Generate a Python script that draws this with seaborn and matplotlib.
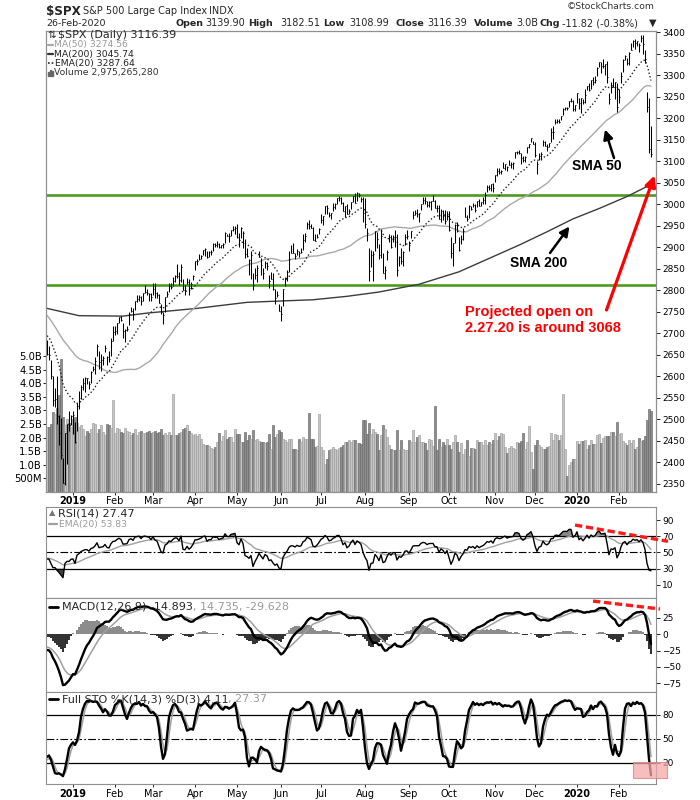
import numpy as np
import pandas as pd
import matplotlib
matplotlib.use("Agg")
import matplotlib.pyplot as plt
from matplotlib.lines import Line2D
from matplotlib.patches import Rectangle
import seaborn as sns

# ---------------------------------------------------------------- data
# warm-up sessions (Oct 1 - Dec 11 2018), not drawn; they only seed the
# moving averages / oscillators so they start where the chart shows them
warm_close_oct18 = [2924.59, 2923.43, 2925.51, 2901.61, 2885.57, 2884.43, 2880.34, 2785.68, 2728.37, 2767.13,
                    2750.79, 2809.92, 2809.21, 2768.78, 2767.78, 2755.88, 2740.69, 2656.10, 2705.57, 2658.69,
                    2641.25, 2682.63, 2711.74]
warm_ext_oct18 = [(12, 8), (8, 4), (14, 5), (17, 19), (23, 17), (10, 22), (14, 6), (92, 2), (67, 18), (8, 38),
                  (24, 2), (4, 43), (7, 27), (37, 14), (29, 8), (22, 7), (2, 50), (86, 5), (16, 39), (33, 31),
                  (65, 38), (2, 48), (24, 27)]
warm_close_nov18 = [2740.37, 2723.06, 2738.31, 2755.45, 2813.89, 2806.83, 2781.01, 2726.22, 2722.18, 2701.58,
                    2730.20, 2736.27, 2690.73, 2641.89, 2649.93, 2632.56, 2673.45, 2682.17, 2743.79, 2737.80,
                    2760.17]
warm_ext_nov18 = [(1, 32), (44, 23), (6, 24), (2, 25), (1, 39), (7, 13), (15, 16), (56, 4), (33, 8), (45, 16),
                  (5, 60), (11, 27), (51, 9), (28, 11), (20, 1), (22, 1), (2, 24), (3, 27), (0, 59), (15, 16),
                  (0, 30)]
warm_close_dec18 = [2790.37, 2700.06, 2695.95, 2633.08, 2637.72, 2636.78]
warm_ext_dec18 = [(10, 16), (85, 3), (2, 75), (75, 10), (3, 55), (37, 16)]

# visible sessions: close, (high-close, close-low), volume (billions)
close_dec18 = [2651.07, 2650.54, 2599.95, 2545.94, 2546.16, 2506.96, 2467.42, 2416.62, 2351.10, 2467.70,
               2488.83, 2485.74, 2506.85]
ext_dec18 = [(34, 1), (20, 13), (38, 7), (55, 16), (27, 18), (94, 18), (42, 26), (87, 8), (59, 0), (0, 121),
             (0, 92), (34, 13), (3, 20)]
vol_dec18 = [2.39, 2.40, 2.51, 2.94, 2.88, 3.10, 3.56, 4.89, 2.75, 2.45, 2.70, 2.55, 2.40]

close_jan19 = [2510.03, 2447.89, 2531.94, 2549.69, 2574.41, 2584.96, 2596.64, 2596.26, 2582.61, 2610.30,
               2616.10, 2635.96, 2670.71, 2632.90, 2638.70, 2642.33, 2664.76, 2643.85, 2640.00, 2681.05, 2704.10]
ext_jan19 = [(9, 43), (45, 4), (6, 58), (16, 26), (6, 27), (10, 17), (1, 34), (1, 14), (6, 13), (2, 25),
             (9, 4), (9, 30), (4, 24), (26, 16), (14, 26), (5, 15), (8, 8), (3, 17), (20, 6), (9, 33), (12, 22)]
vol_jan19 = [2.70, 2.75, 2.55, 2.40, 2.45, 2.30, 2.05, 2.25, 2.15, 2.30, 2.55, 2.50, 2.15, 2.30, 2.45, 2.20,
             2.10, 2.50, 2.45, 2.35, 3.38]

close_feb19 = [2706.53, 2724.87, 2737.70, 2731.61, 2706.05, 2707.88, 2709.80, 2744.73, 2753.03, 2745.73,
               2775.60, 2779.76, 2784.70, 2774.88, 2792.67, 2796.11, 2793.90, 2792.38, 2784.49]
ext_feb19 = [(11, 10), (0, 27), (0, 13), (8, 4), (19, 16), (1, 27), (8, 5), (4, 26), (8, 3), (12, 14),
             (0, 21), (9, 7), (5, 9), (11, 8), (0, 17), (17, 2), (10, 5), (2, 17), (10, 9)]
vol_feb19 = [2.15, 2.35, 2.30, 2.20, 2.15, 2.35, 2.25, 2.20, 2.10, 2.15, 2.30, 2.10, 2.20, 2.25, 2.15, 2.15,
             2.20, 2.25, 2.15]

close_mar19 = [2803.69, 2792.81, 2789.65, 2771.45, 2748.93, 2743.07, 2783.30, 2791.52, 2810.92, 2808.48,
               2822.48, 2832.94, 2832.57, 2824.23, 2854.88, 2800.71, 2798.36, 2818.46, 2805.37, 2815.44, 2834.40]
ext_mar19 = [(13, 14), (24, 11), (7, 7), (19, 1), (20, 4), (6, 21), (1, 33), (7, 8), (5, 14), (9, 6),
             (8, 12), (2, 14), (28, 5), (19, 12), (6, 36), (25, 0), (13, 10), (11, 3), (20, 17), (5, 13), (2, 11)]
vol_mar19 = [2.20, 2.25, 2.15, 2.20, 2.30, 2.10, 2.15, 2.10, 2.20, 2.10, 3.62, 2.10, 2.10, 2.15, 2.20, 2.30,
             2.35, 2.45, 2.25, 2.15, 2.10]

close_apr19 = [2867.19, 2867.24, 2873.40, 2879.39, 2892.74, 2895.77, 2878.20, 2888.21, 2888.32, 2907.41,
               2905.58, 2907.06, 2900.45, 2905.03, 2907.97, 2933.68, 2927.25, 2926.17, 2939.88, 2943.03, 2945.83]
ext_apr19 = [(1, 19), (5, 8), (12, 4), (3, 7), (0, 11), (2, 16), (13, 3), (3, 10), (5, 7), (3, 15),
             (5, 6), (7, 6), (9, 2), (1, 6), (2, 10), (3, 24), (3, 1), (6, 14), (0, 14), (6, 6), (4, 15)]
vol_apr19 = [2.14, 2.05, 2.14, 1.96, 1.75, 1.72, 1.72, 1.68, 1.60, 1.58, 1.65, 1.84, 2.15, 1.86, 2.05, 2.27,
             1.96, 2.02, 2.02, 1.84, 2.33]

close_may19 = [2923.73, 2917.52, 2945.64, 2932.47, 2884.05, 2879.42, 2870.72, 2881.40, 2811.87, 2834.41,
               2850.96, 2876.32, 2859.53, 2840.23, 2864.36, 2856.27, 2822.24, 2826.06, 2802.39, 2783.02,
               2788.86, 2752.06]
ext_may19 = [(31, 1), (15, 17), (2, 25), (5, 34), (36, 9), (18, 2), (3, 35), (10, 55), (28, 11), (18, 9),
             (7, 32), (15, 0), (16, 24), (12, 15), (4, 13), (10, 8), (14, 17), (16, 0), (38, 1), (20, 15),
             (10, 5), (16, 0)]
vol_may19 = [2.14, 2.12, 1.84, 1.84, 2.21, 1.90, 2.08, 1.96, 2.27, 1.90, 1.96, 1.87, 1.84, 1.84, 1.78, 1.84,
             2.14, 1.56, 2.45, 2.02, 2.14, 2.29]

close_jun19 = [2744.45, 2803.27, 2826.15, 2843.49, 2873.34, 2886.73, 2885.72, 2879.84, 2891.64, 2886.98,
               2889.67, 2917.75, 2926.46, 2954.18, 2950.46, 2945.35, 2917.38, 2913.78, 2924.92, 2941.76]
ext_jun19 = [(19, 16), (0, 40), (4, 16), (3, 21), (18, 30), (18, 0), (25, 0), (8, 6), (4, 10), (5, 10),
             (8, 3), (13, 25), (6, 14), (4, 12), (14, 7), (9, 0), (29, 0), (16, 0), (5, 4), (2, 12)]
vol_jun19 = [2.21, 1.96, 1.92, 1.84, 1.96, 1.96, 1.56, 1.59, 1.53, 1.96, 1.84, 2.02, 1.96, 1.96, 2.92, 1.96,
             1.96, 1.65, 1.70, 2.88]

close_jul19 = [2964.33, 2973.01, 2995.82, 2990.41, 2975.95, 2979.63, 2993.07, 2999.91, 3013.77, 3014.30,
               3004.04, 2984.42, 2995.11, 2976.61, 2985.03, 3005.47, 3019.56, 3003.67, 3025.86, 3020.97,
               3013.18, 2980.38]
ext_jul19 = [(13, 7), (0, 21), (0, 18), (9, 14), (5, 5), (1, 14), (9, 9), (3, 11), (0, 14), (4, 6),
             (12, 3), (21, 0), (0, 25), (23, 0), (5, 8), (0, 16), (0, 14), (23, 0), (2, 18), (5, 3),
             (4, 7), (37, 22)]
vol_jul19 = [1.65, 1.55, 1.04, 1.22, 1.53, 1.59, 1.65, 1.59, 1.53, 1.62, 1.65, 1.72, 1.84, 1.84, 1.90, 1.84,
             1.90, 1.92, 1.78, 1.78, 1.75, 2.66]

close_aug19 = [2953.56, 2932.05, 2844.74, 2881.77, 2883.98, 2938.09, 2918.65, 2882.70, 2926.32, 2840.60,
               2847.60, 2888.68, 2923.65, 2900.51, 2924.43, 2922.95, 2847.11, 2878.38, 2869.16, 2887.94,
               2924.58, 2926.46]
ext_aug19 = [(60, 8), (12, 18), (54, 22), (11, 28), (8, 62), (0, 47), (17, 20), (26, 9), (16, 51), (45, 0),
             (9, 22), (5, 18), (8, 11), (27, 2), (4, 11), (17, 23), (84, 13), (1, 22), (30, 8), (3, 32),
             (6, 20), (14, 8)]
vol_aug19 = [2.63, 2.14, 2.55, 2.14, 2.33, 2.20, 2.14, 1.55, 2.10, 2.45, 2.33, 2.02, 1.72, 1.59, 1.53, 1.53,
             2.27, 1.53, 1.90, 1.59, 1.55, 1.55]

close_sep19 = [2906.27, 2937.78, 2976.00, 2978.71, 2978.43, 2979.39, 3000.93, 3009.57, 3007.39, 2997.96,
               3005.70, 3006.73, 3006.79, 2992.07, 2991.78, 2966.60, 2984.87, 2977.62, 2961.79, 2976.74]
ext_sep19 = [(8, 15), (0, 16), (9, 10), (7, 4), (10, 9), (0, 20), (0, 15), (8, 9), (10, 6), (10, 4),
             (1, 12), (1, 21), (15, 0), (17, 0), (7, 9), (32, 0), (4, 27), (9, 14), (25, 7), (7, 13)]
vol_sep19 = [1.92, 1.84, 2.27, 1.84, 2.02, 2.08, 1.84, 1.82, 1.78, 1.53, 1.96, 1.90, 1.70, 3.15, 1.55, 1.96,
             1.65, 1.84, 1.71, 1.96]

close_oct19 = [2940.25, 2887.61, 2910.63, 2952.01, 2938.79, 2893.06, 2919.40, 2938.13, 2970.27, 2966.15,
               2995.68, 2989.69, 2997.95, 2986.20, 3006.72, 2995.99, 3004.52, 3010.29, 3022.55, 3039.42,
               3036.89, 3046.77, 3037.56]
ext_oct19 = [(43, 2), (37, 13), (0, 55), (1, 41), (20, 4), (32, 1), (10, 12), (7, 21), (23, 0), (9, 6),
             (2, 28), (7, 4), (6, 5), (14, 5), (0, 12), (17, 0), (0, 9), (6, 10), (5, 22), (5, 12),
             (8, 3), (0, 17), (13, 8)]
vol_oct19 = [1.71, 1.59, 1.84, 2.08, 1.84, 1.47, 1.78, 1.38, 1.57, 1.90, 1.31, 1.63, 1.63, 1.59, 1.92, 1.84,
             1.84, 1.71, 1.90, 1.71, 1.84, 1.75, 1.92]

close_nov19 = [3066.91, 3078.27, 3074.62, 3076.78, 3085.18, 3093.08, 3087.01, 3091.84, 3094.04, 3096.63,
               3120.46, 3122.03, 3120.18, 3108.46, 3103.54, 3110.29, 3133.64, 3140.52, 3153.63, 3140.98]
ext_nov19 = [(0, 16), (6, 13), (9, 5), (3, 6), (12, 1), (0, 14), (1, 9), (11, 1), (4, 10), (1, 14),
             (0, 12), (2, 5), (7, 3), (11, 14), (8, 6), (1, 11), (0, 14), (0, 9), (1, 8), (7, 2)]
vol_nov19 = [2.17, 1.92, 2.05, 2.15, 2.12, 1.65, 1.41, 1.63, 1.68, 1.63, 1.59, 1.84, 1.80, 1.87, 2.15, 1.59,
             1.84, 2.42, 1.47, 0.85]

close_dec19 = [3113.87, 3093.20, 3112.76, 3117.43, 3145.91, 3135.96, 3132.52, 3141.63, 3168.57, 3168.80,
               3191.45, 3192.52, 3191.14, 3205.37, 3221.22, 3224.01, 3223.38, 3239.91, 3240.02, 3221.29, 3230.78]
ext_dec19 = [(30, 4), (7, 23), (7, 10), (3, 14), (4, 10), (12, 0), (8, 9), (1, 8), (8, 24), (13, 18),
             (6, 6), (6, 4), (8, 2), (0, 9), (3, 13), (3, 5), (3, 4), (0, 14), (7, 3), (20, 5), (1, 15)]
vol_dec19 = [1.71, 1.92, 1.71, 1.65, 1.59, 1.59, 1.65, 1.68, 2.17, 1.90, 2.12, 2.08, 1.90, 2.08, 3.60, 1.56,
             0.57, 0.98, 1.10, 1.19, 1.22]

close_jan20 = [3257.85, 3234.85, 3246.28, 3237.18, 3253.05, 3274.70, 3265.35, 3288.13, 3283.15, 3289.29,
               3316.81, 3329.62, 3320.79, 3321.75, 3325.54, 3295.47, 3243.63, 3276.24, 3273.40, 3283.66, 3225.52]
ext_jan20 = [(0, 22), (12, 13), (0, 33), (8, 5), (14, 17), (1, 9), (17, 2), (0, 21), (12, 6), (10, 8),
             (2, 18), (0, 10), (9, 16), (16, 4), (1, 25), (38, 14), (14, 10), (9, 17), (20, 0), (1, 40), (57, 11)]
vol_jan20 = [1.86, 1.75, 1.87, 1.88, 1.90, 1.56, 1.71, 1.90, 1.75, 1.75, 2.08, 2.12, 1.78, 2.00, 2.05, 2.05,
             2.05, 2.21, 2.21, 2.05, 2.58]

close_feb20 = [3248.92, 3297.59, 3334.69, 3345.78, 3327.71, 3352.09, 3357.75, 3379.45, 3373.94, 3380.16,
               3370.29, 3386.15, 3373.23, 3337.75, 3225.89, 3128.21, 3116.39]
ext_feb20 = [(19, 13), (9, 15), (3, 27), (1, 11), (13, 4), (1, 29), (18, 0), (2, 14), (11, 12), (0, 13),
             (5, 16), (7, 10), (20, 23), (22, 9), (34, 11), (119, 10), (66, 7)]
vol_feb20 = [2.12, 2.17, 1.87, 1.78, 1.71, 1.92, 1.80, 1.92, 1.59, 1.65, 2.00, 1.86, 1.90, 2.05, 2.66, 3.07,
             2.98]

# 200-day SMA (bar index, value)
ma200_bar = [0, 16, 38, 50, 75, 100, 116, 133, 150, 166, 186, 206, 221, 236, 250, 263, 276, 290, 302]
ma200_val = [2758, 2741, 2740, 2747, 2758, 2772, 2775, 2778, 2786, 2796, 2814, 2843, 2874, 2905, 2936, 2966,
             2990, 3018, 3046]

# horizontal support / resistance lines
green_levels = [3022, 2813]

month_labels = ['2019', 'Feb', 'Mar', 'Apr', 'May', 'Jun', 'Jul', 'Aug', 'Sep', 'Oct', 'Nov', 'Dec',
                '2020', 'Feb']
price_ticks = list(range(2350, 3401, 50))
vol_ticks = [0.5, 1.0, 1.5, 2.0, 2.5, 3.0, 3.5, 4.0, 4.5, 5.0]
vol_tick_labels = ['500M', '1.0B', '1.5B', '2.0B', '2.5B', '3.0B', '3.5B', '4.0B', '4.5B', '5.0B']

# ---------------------------------------------------------------- assemble
closes_m = [close_dec18, close_jan19, close_feb19, close_mar19, close_apr19, close_may19, close_jun19,
            close_jul19, close_aug19, close_sep19, close_oct19, close_nov19, close_dec19, close_jan20, close_feb20]
ext_m = [ext_dec18, ext_jan19, ext_feb19, ext_mar19, ext_apr19, ext_may19, ext_jun19, ext_jul19, ext_aug19,
         ext_sep19, ext_oct19, ext_nov19, ext_dec19, ext_jan20, ext_feb20]
vol_m = [vol_dec18, vol_jan19, vol_feb19, vol_mar19, vol_apr19, vol_may19, vol_jun19, vol_jul19, vol_aug19,
         vol_sep19, vol_oct19, vol_nov19, vol_dec19, vol_jan20, vol_feb20]

warm_c = warm_close_oct18 + warm_close_nov18 + warm_close_dec18
warm_e = warm_ext_oct18 + warm_ext_nov18 + warm_ext_dec18
vis_c = sum(closes_m, [])
vis_e = sum(ext_m, [])
vis_v = sum(vol_m, [])
month_starts = list(np.cumsum([len(m) for m in closes_m])[:-1])

all_c = pd.Series(warm_c + vis_c, dtype=float)
all_e = np.array(warm_e + vis_e, dtype=float)
all_h = all_c + all_e[:, 0]
all_l = all_c - all_e[:, 1]

ma50 = all_c.rolling(50).mean()
ema20 = all_c.ewm(span=20, adjust=False).mean()
d = all_c.diff()
up = d.clip(lower=0)
dn = -d.clip(upper=0)
rsi = 100 - 100 / (1 + up.ewm(alpha=1 / 14, adjust=False).mean() / dn.ewm(alpha=1 / 14, adjust=False).mean())
rsi_ema = rsi.ewm(span=20, adjust=False).mean()
macd = all_c.ewm(span=12, adjust=False).mean() - all_c.ewm(span=26, adjust=False).mean()
sig = macd.ewm(span=9, adjust=False).mean()
hist = macd - sig
ll = all_l.rolling(14).min()
hh = all_h.rolling(14).max()
fastk = 100 * (all_c - ll) / (hh - ll)
fullk = fastk.rolling(3).mean()
fulld = fullk.rolling(3).mean()

nw = len(warm_c)
n = len(vis_c)
x = np.arange(n)
C = all_c.values[nw:]
Hh = all_h.values[nw:]
Ll = all_l.values[nw:]
prevC = all_c.values[nw - 1:-1]
V = np.array(vis_v[:n])
sl = slice(nw, None)

# ---------------------------------------------------------------- figure
sns.set_theme(style="white")
plt.rcParams['font.family'] = ['DejaVu Sans']
plt.rcParams['axes.linewidth'] = 0.8
W, H = 700, 800
fig = plt.figure(figsize=(7, 8), dpi=100)
fig.patch.set_facecolor('white')


def rect(top, bottom):
    return [46 / W, 1 - bottom / H, 610 / W, (bottom - top) / H]


ax_p = fig.add_axes(rect(31, 491.7))
ax_v = ax_p.twinx()
ax_r = fig.add_axes(rect(506.7, 598.3))
ax_m = fig.add_axes(rect(598.3, 691.7))
ax_s = fig.add_axes(rect(691.7, 784.3))
ax_v.set_zorder(1)
ax_p.set_zorder(2)
ax_p.patch.set_visible(False)

FRAME = '#8f8f8f'
for a in (ax_p, ax_v, ax_r, ax_m, ax_s):
    for s in a.spines.values():
        s.set_color(FRAME)
        s.set_linewidth(0.8)
    a.set_xlim(-0.5, 304.5)
    a.grid(False)

# volume
upday = C >= prevC
vcol = np.where(upday, '#c6c6c6', '#8e8e8e')
vedge = np.where(upday, '#9c9c9c', '#686868')
ax_v.bar(x, V, width=1.0, color=vcol, edgecolor=vedge, linewidth=0.45)
ax_v.set_ylim(0, 17.0)
ax_v.yaxis.tick_left()
ax_v.set_yticks(vol_ticks)
ax_v.set_yticklabels(vol_tick_labels)
ax_v.tick_params(axis='y', left=True, right=False, labelleft=True, labelright=False, labelsize=7.2,
                 length=2, width=0.6, pad=1, colors='black')

# price
ax_p.set_ylim(2331.8, 3402.8)
for lvl in green_levels:
    ax_p.axhline(lvl, color='#4e9b1e', lw=1.9, zorder=1)
sns.lineplot(x=ma200_bar, y=ma200_val, ax=ax_p, color='#3c3c3c', linewidth=1.0, zorder=2)
sns.lineplot(x=x, y=ma50.values[sl], ax=ax_p, color='#a9a9a9', linewidth=1.0, zorder=2)
sns.lineplot(x=x, y=ema20.values[sl], ax=ax_p, color='#222222', linewidth=1.0, linestyle=(0, (1, 1.6)), zorder=2)
ax_p.vlines(x, Ll, Hh, color='black', lw=0.75, zorder=3)
ax_p.hlines(C, x, x + 0.55, color='black', lw=0.75, zorder=3)
ax_p.yaxis.tick_right()
ax_p.set_yticks(price_ticks)
ax_p.set_yticklabels([str(t) for t in price_ticks])
ax_p.tick_params(axis='y', left=False, right=True, labelleft=False, labelright=True, labelsize=6.5,
                 length=3, width=0.6, pad=1.5, colors='black')
ax_p.set_ylabel('')
ax_p.set_xlabel('')

# x ticks (top row under price panel and bottom row)
for a, show in ((ax_p, True), (ax_r, False), (ax_m, False), (ax_s, True)):
    a.set_xticks(month_starts)
    a.set_xticklabels(month_labels)
    a.tick_params(axis='x', bottom=show, labelbottom=show, length=2.5, width=0.6, pad=0.8,
                  labelsize=7, colors='black')
    if show:
        for t in a.get_xticklabels():
            if t.get_text() in ('2019', '2020'):
                t.set_fontweight('bold')
    a.set_xlabel('')
    a.set_ylabel('')

# RSI
r = rsi.values[sl]
ax_r.set_ylim(-6.4, 106.4)
ax_r.fill_between(x, r, 70, where=r > 70, interpolate=True, color='#8a8a8a', lw=0)
ax_r.fill_between(x, r, 30, where=r < 30, interpolate=True, color='#444444', lw=0)
ax_r.axhline(70, color='black', lw=0.9)
ax_r.axhline(30, color='black', lw=0.9)
ax_r.axhline(50, color='black', lw=0.8, linestyle=(0, (7, 2, 1.5, 2)))
sns.lineplot(x=x, y=rsi_ema.values[sl], ax=ax_r, color='#a0a0a0', linewidth=1.0)
sns.lineplot(x=x, y=r, ax=ax_r, color='black', linewidth=1.0)
ax_r.yaxis.tick_right()
ax_r.set_yticks([10, 30, 50, 70, 90])
ax_r.tick_params(axis='y', left=False, right=True, labelleft=False, labelright=True, labelsize=6.5,
                 length=3, width=0.6, pad=1.5, colors='black')
ax_r.set_xlabel('')
ax_r.set_ylabel('')
ax_r.plot([264, 310.5], [83.8, 63.75], color='#ff1a1a', lw=2.4, linestyle=(0, (2.2, 1.1)), clip_on=False,
          zorder=5)

# MACD
hv = hist.values[sl]
ax_m.set_ylim(-87.8, 54.6)
ax_m.bar(x, hv, width=0.75, color=np.where(hv >= 0, '#8c8c8c', '#333333'), linewidth=0)
sns.lineplot(x=x, y=sig.values[sl], ax=ax_m, color='#a0a0a0', linewidth=1.1)
sns.lineplot(x=x, y=macd.values[sl], ax=ax_m, color='black', linewidth=1.7)
ax_m.yaxis.tick_right()
ax_m.set_yticks([-75, -50, -25, 0, 25])
ax_m.tick_params(axis='y', left=False, right=True, labelleft=False, labelright=True, labelsize=6.5,
                 length=3, width=0.6, pad=1.5, colors='black')
ax_m.set_xlabel('')
ax_m.set_ylabel('')
ax_m.plot([273, 306.5], [50.4, 38.3], color='#ff1a1a', lw=2.4, linestyle=(0, (2.2, 1.1)), clip_on=False,
          zorder=5)

# Full stochastics
ax_s.set_ylim(-7.2, 109.3)
ax_s.axhline(80, color='black', lw=0.9)
ax_s.axhline(20, color='black', lw=0.9)
ax_s.axhline(50, color='black', lw=0.8, linestyle=(0, (7, 2, 1.5, 2)))
sns.lineplot(x=x, y=fulld.values[sl], ax=ax_s, color='#a0a0a0', linewidth=1.1)
sns.lineplot(x=x, y=fullk.values[sl], ax=ax_s, color='black', linewidth=1.7)
ax_s.yaxis.tick_right()
ax_s.set_yticks([20, 50, 80])
ax_s.tick_params(axis='y', left=False, right=True, labelleft=False, labelright=True, labelsize=6.5,
                 length=3, width=0.6, pad=1.5, colors='black')
ax_s.set_xlabel('')
ax_s.set_ylabel('')
ax_s.add_patch(Rectangle((293, 0.9), 17, 20, facecolor='#f3a9a9', alpha=0.75, edgecolor='#e07a7a',
                         lw=0.8, clip_on=False, zorder=6))


# ---------------------------------------------------------------- annotations
def bx(px):
    return (px - 47) / 2.0


def py(pyy):
    return 3400 - (pyy - 32.2) / 0.4302


ANN = ['Liberation Sans', 'DejaVu Sans']
ax_p.text(bx(597), py(166), 'SMA 50', ha='center', va='center', fontsize=10, fontweight='bold',
          family=ANN, color='black', zorder=10)
ax_p.annotate('', xy=(bx(605), py(129.5)), xytext=(bx(614), py(158)),
              arrowprops=dict(arrowstyle='-|>', color='black', lw=1.8, mutation_scale=14, shrinkA=0, shrinkB=0),
              zorder=10)
ax_p.text(bx(539), py(262.7), 'SMA 200', ha='center', va='center', fontsize=10, fontweight='bold',
          family=ANN, color='black', zorder=10)
ax_p.annotate('', xy=(bx(569.5), py(226.5)), xytext=(bx(550), py(253)),
              arrowprops=dict(arrowstyle='-|>', color='black', lw=1.8, mutation_scale=14, shrinkA=0, shrinkB=0),
              zorder=10)
ax_p.text(bx(465), py(311.7), 'Projected open on', ha='left', va='center', fontsize=10.5, fontweight='bold',
          family=ANN, color='#ff0000', zorder=10)
ax_p.text(bx(465), py(328.5), '2.27.20 is around 3068', ha='left', va='center', fontsize=10.5,
          fontweight='bold', family=ANN, color='#ff0000', zorder=10)
ax_p.annotate('', xy=(bx(654.5), py(175.5)), xytext=(bx(606.5), py(310)),
              arrowprops=dict(arrowstyle='-|>', color='#ff0000', lw=2.3, mutation_scale=16, shrinkA=0,
                              shrinkB=0), annotation_clip=False, zorder=10)


# ---------------------------------------------------------------- header & legends
def ftext(px, pyy, s, **kw):
    kw.setdefault('va', 'center')
    kw.setdefault('ha', 'left')
    return fig.text(px / W, 1 - pyy / H, s, **kw)


def fline(x0, x1, yy, **kw):
    fig.add_artist(Line2D([x0 / W, x1 / W], [1 - yy / H, 1 - yy / H], transform=fig.transFigure, **kw))


ftext(46, 11, '$SPX', fontsize=8.6, fontweight='bold')
ftext(83, 11.5, 'S&P 500 Large Cap Index', fontsize=7)
ftext(209, 11.5, 'INDX', fontsize=7)
ftext(46, 23, '26-Feb-2020', fontsize=6.8)
ftext(655, 6.5, '\u00a9StockCharts.com', fontsize=6.7, ha='right', color='#333333')
info = [(175.7, 'Open', True), (205, '3139.90', False), (247.7, 'High', True), (280, '3182.51', False),
        (322.7, 'Low', True), (349.5, '3108.99', False), (395, 'Close', True), (427, '3116.39', False),
        (474, 'Volume', True), (516, '3.0B', False), (539, 'Chg', True), (562, '-11.82 (-0.38%)', False),
        (649, '\u25bc', False)]
for px, s, b in info:
    ftext(px, 23, s, fontsize=6.8 if b else 7, fontweight='bold' if b else 'normal')

# price legend
ftext(47.5, 35, '\u21c5', fontsize=7.5)
ftext(58.3, 35, '$SPX (Daily) 3116.39', fontsize=8)
fline(47.7, 53, 45, color='#a9a9a9', lw=1.6)
ftext(53.5, 45, 'MA(50) 3274.56', fontsize=6.7, color='#9a9a9a')
fline(47.7, 53, 54.3, color='#333333', lw=1.6)
ftext(53.5, 54.3, 'MA(200) 3045.74', fontsize=6.7, color='#222222')
fline(47.7, 54, 63.3, color='#222222', lw=1.2, linestyle=(0, (1, 1.2)))
ftext(55, 63.3, 'EMA(20) 3287.64', fontsize=6.7, color='#222222')
for k, hgt in enumerate([4, 6, 5]):
    fig.add_artist(Rectangle(((48 + k * 1.8) / W, 1 - (75.5) / H), 1.2 / W, hgt / H,
                             transform=fig.transFigure, color='#666666'))
ftext(53.5, 72.7, 'Volume 2,975,265,280', fontsize=6.7, color='#333333')

# RSI legend
ftext(48.5, 513, '\u25b2', fontsize=6, color='#777777')
ftext(58.3, 513, 'RSI(14) 27.47', fontsize=8)
fline(49, 57, 524.3, color='#a0a0a0', lw=1.6)
ftext(59, 524.3, 'EMA(20) 53.83', fontsize=6.7, color='#9a9a9a')

# MACD legend
r_ = fig.canvas.get_renderer()
fline(49, 58, 606.7, color='black', lw=2)
t1 = ftext(61.7, 606.7, 'MACD(12,26,9) -14.893', fontsize=8)
w1 = t1.get_window_extent(renderer=r_).width
ftext(61.7 + w1, 606.7, ', 14.735, -29.628', fontsize=8, color='#9a9a9a')

# STO legend
fline(49, 58, 699, color='black', lw=2)
t2 = ftext(61.7, 699, 'Full STO %K(14,3) %D(3) 4.11', fontsize=8)
w2 = t2.get_window_extent(renderer=r_).width
ftext(61.7 + w2, 699, ', 27.37', fontsize=8, color='#9a9a9a')

fig.savefig('out.png', dpi=100, facecolor='white')
